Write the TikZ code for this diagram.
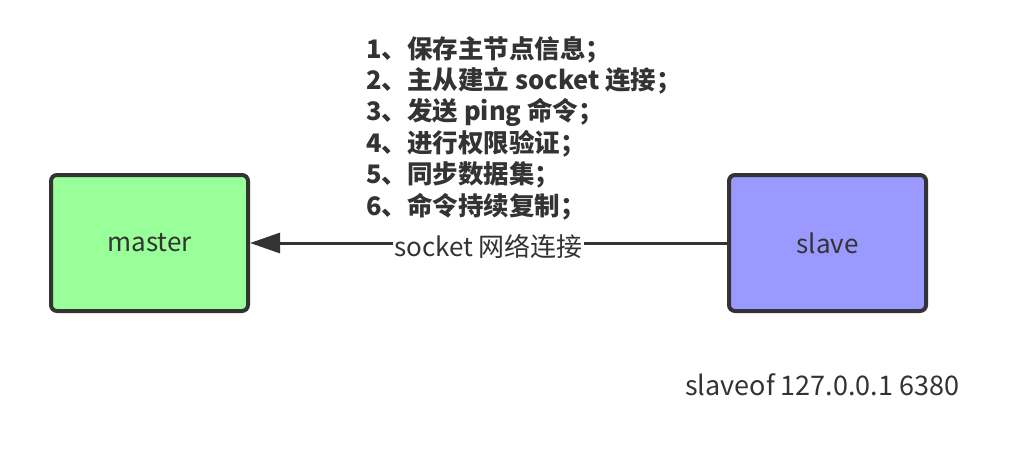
\documentclass[tikz,border=0pt]{standalone}
\usepackage{fontspec}
\setmainfont{Noto Sans CJK SC}
\usetikzlibrary{arrows.meta}
\definecolor{ink}{HTML}{333333}
\definecolor{mgreen}{HTML}{99FF99}
\definecolor{sblue}{HTML}{9999FF}
\begin{document}
\begin{tikzpicture}[x=1pt,y=-1pt,
  box/.style={draw=ink,line width=4pt,rounded corners=6pt,minimum width=197pt,minimum height=136pt,inner sep=0pt,font=\fontsize{26}{30}\selectfont,text=ink},
  stepline/.style={anchor=base west,inner sep=0pt,font=\fontsize{25.5}{30}\selectfont\bfseries,text=ink},
  conn/.style={draw=ink,line width=3pt,-{Triangle[length=30pt,width=20pt]}},
  lbl/.style={fill=white,inner sep=1pt,font=\fontsize{26}{30}\selectfont,text=ink},
  plain/.style={anchor=base west,inner sep=0pt,font=\fontsize{27}{30}\selectfont,text=ink}]
\useasboundingbox (0,0) rectangle (1032,474);
\node[box,fill=mgreen] (master) at (149.5,243) {master};
\node[box,fill=sblue] (slave) at (827.5,243) {slave};
\draw[conn] (slave) -- node[lbl,yshift=-3pt] (sock) {socket 网络连接} (master);
\node[stepline] (l1) at (366,58) {1、保存主节点信息；};
\node[stepline] (l2) at (366,89.4) {2、主从建立 socket 连接；};
\node[stepline] (l3) at (366,120.8) {3、发送 ping 命令；};
\node[stepline] (l4) at (366,152.2) {4、进行权限验证；};
\node[stepline] (l5) at (366,183.6) {5、同步数据集；};
\node[stepline] (l6) at (366,215) {6、命令持续复制；};
\node[plain] (cmd) at (685,395) {slaveof 127.0.0.1 6380};
\end{tikzpicture}
\end{document}
